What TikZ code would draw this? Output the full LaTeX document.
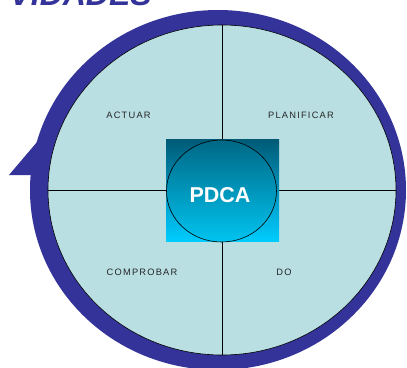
\documentclass[tikz,border=0pt]{standalone}
\usepackage{fontspec}
\setmainfont{Liberation Sans}
\usetikzlibrary{shapes.geometric}
\definecolor{ringblue}{RGB}{51,51,153}
\definecolor{lightfill}{RGB}{185,223,227}
\definecolor{sqtop}{RGB}{0,90,118}
\definecolor{sqbot}{RGB}{0,204,255}
\definecolor{cirtop}{RGB}{0,104,134}
\definecolor{cirbot}{RGB}{0,196,240}
\tikzset{
  quadlabel/.style={font=\fontsize{9.3}{11}\selectfont\addfontfeature{LetterSpace=13}, text=black!85, inner sep=0pt},
  crossline/.style={draw=black, line width=0.8pt}
}
\begin{document}
\begin{tikzpicture}[x=1pt,y=-1pt]
\useasboundingbox (0,0) rectangle (407,367);
\clip (0,0) rectangle (407,367);
\fill[white] (0,0) rectangle (407,367);
% partial title text
\node[anchor=base east, inner sep=0pt, text=ringblue, font=\fontsize{32}{36}\selectfont\bfseries\itshape] (title) at (152,5) {VIDADES};
% blue ring
\fill[ringblue] (218,190) ellipse [x radius=188, y radius=180];
% arrowhead
\fill[ringblue] (9,175) -- (73,175) -- (43,135) -- cycle;
% light disc
\node[ellipse, draw=black, line width=0.6pt, fill=lightfill, minimum width=348pt, minimum height=330pt, inner sep=0pt] (disc) at (222,190) {};
% cross
\coordinate (ctop) at (222,25);
\coordinate (cbot) at (222,355);
\coordinate (cleft) at (48,190);
\coordinate (cright) at (396,190);
\draw[crossline] (ctop) -- (cbot);
\draw[crossline] (cleft) -- (cright);
% center square
\node[rectangle, minimum width=113pt, minimum height=102pt, inner sep=0pt, top color=sqtop, bottom color=sqbot] (sq) at (222.5,190) {};
\node[ellipse, draw=black, line width=0.6pt, minimum width=110pt, minimum height=102pt, inner sep=0pt, top color=cirtop, bottom color=cirbot] (hub) at (221.5,191) {};
\node[text=white, font=\fontsize{21.5}{24}\selectfont\bfseries, inner sep=0pt] (pdca) at (220,195) {PDCA};
% labels
\node[quadlabel] (act) at (128.5,115) {ACTUAR};
\node[quadlabel] (plan) at (301,115) {PLANIFICAR};
\node[quadlabel] (comp) at (142,272) {COMPROBAR};
\node[quadlabel] (do) at (284,272) {DO};
\end{tikzpicture}
\end{document}
